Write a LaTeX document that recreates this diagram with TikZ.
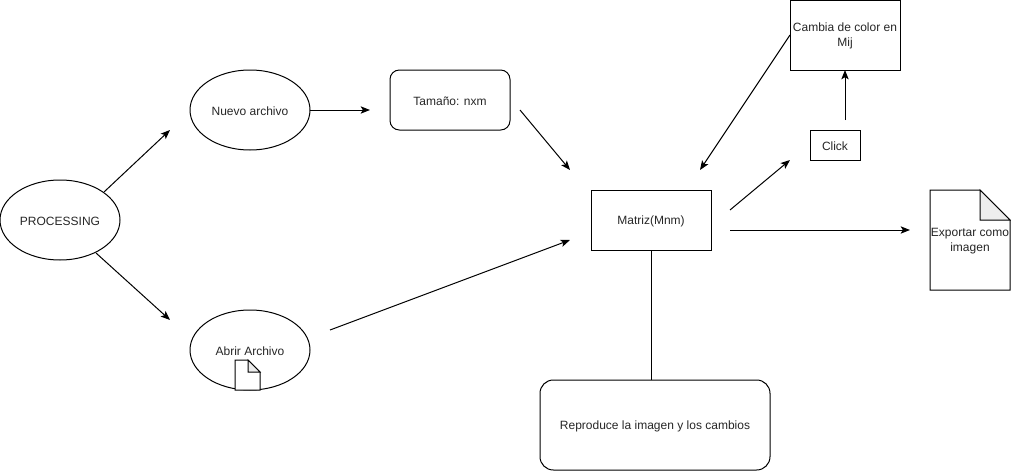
\documentclass[tikz,border=0pt]{standalone}
\usepackage{fontspec}
\setmainfont{Liberation Sans}
\usetikzlibrary{arrows.meta,shapes.geometric}
\newcommand{\dnl}[1]{\raisebox{-0.75pt}[\height][\depth]{#1}}
\tikzset{
  x=0.75pt,y=-0.75pt,
  every node/.style={font=\fontsize{9}{11.25}\selectfont,text=black!85,inner sep=0pt,outer sep=0pt,align=center},
  ell/.style={draw,ellipse,line width=0.75pt,minimum width=90pt,minimum height=60pt},
  rbox/.style={draw,rounded corners=7pt,line width=0.75pt,minimum width=90pt,minimum height=45pt},
  sbox/.style={draw,line width=0.75pt},
  conn/.style={line width=0.75pt,-{Stealth[length=7pt,width=5.5pt,inset=1.6pt]}},
  plainline/.style={line width=0.75pt},
  docshape/.style={draw,line width=0.75pt,fill=white,line join=miter},
  docfold/.style={draw,line width=0.75pt,fill=black!7}
}
\begin{document}
\begin{tikzpicture}
\useasboundingbox (0,0) rectangle (1011,471);
\node[ell] (proc) at (60,220) {\dnl{PROCESSING}};
\node[ell] (nuevo) at (250,110) {\dnl{Nuevo archivo}};
\node[ell] (abrir) at (250,350) {\dnl{Abrir Archivo}};
\node[rbox] (tam) at (450,100) {\dnl{Tamaño: nxm}};
\node[sbox,minimum width=90pt,minimum height=45pt] (mat) at (651,220) {\dnl{Matriz(Mnm)}};
\node[sbox,minimum width=82.5pt,minimum height=52.5pt] (cam) at (845,35) {\dnl{Cambia de color en}\\\dnl{Mij}};
\node[sbox,minimum width=37.5pt,minimum height=22.5pt] (click) at (835,145) {\dnl{Click}};
\node[rbox,rounded corners=10pt,minimum width=172.5pt,minimum height=67.5pt] (rep) at (655,425) {\dnl{Reproduce la imagen y los cambios}};
% small file icon on Abrir Archivo
\draw[docshape] (235,360) -- (248,360) -- (260,372) -- (260,390) -- (235,390) -- cycle;
\draw[docfold] (248,360) -- (248,372) -- (260,372) -- cycle;
% export file
\draw[docshape] (930,190) -- (980,190) -- (1010,220) -- (1010,290) -- (930,290) -- cycle;
\draw[docfold] (980,190) -- (980,220) -- (1010,220) -- cycle;
\node (exp) at (970,240) {\dnl{Exportar como}\\\dnl{imagen}};
% free connector ends
\coordinate (a1) at (104,192); \coordinate (a2) at (170,130);
\coordinate (b1) at (96,253);  \coordinate (b2) at (170,320);
\coordinate (c2) at (370,110);
\coordinate (d1) at (520,110); \coordinate (d2) at (570,170);
\coordinate (e1) at (330,330); \coordinate (e2) at (570,240);
\coordinate (f1) at (730,210); \coordinate (f2) at (790,160);
\coordinate (g1) at (730,230); \coordinate (g2) at (910,230);
\coordinate (h1) at (845,120);
\coordinate (i2) at (700,170);
\draw[conn] (a1) -- (a2);
\draw[conn] (b1) -- (b2);
\draw[conn] (nuevo.east) -- (c2);
\draw[conn] (d1) -- (d2);
\draw[conn] (e1) -- (e2);
\draw[conn] (f1) -- (f2);
\draw[conn] (g1) -- (g2);
\draw[conn] (h1) -- (cam.south);
\draw[conn] (cam.west) -- (i2);
\draw[plainline] (mat.south) -- (mat.south |- rep.north);
\end{tikzpicture}
\end{document}
